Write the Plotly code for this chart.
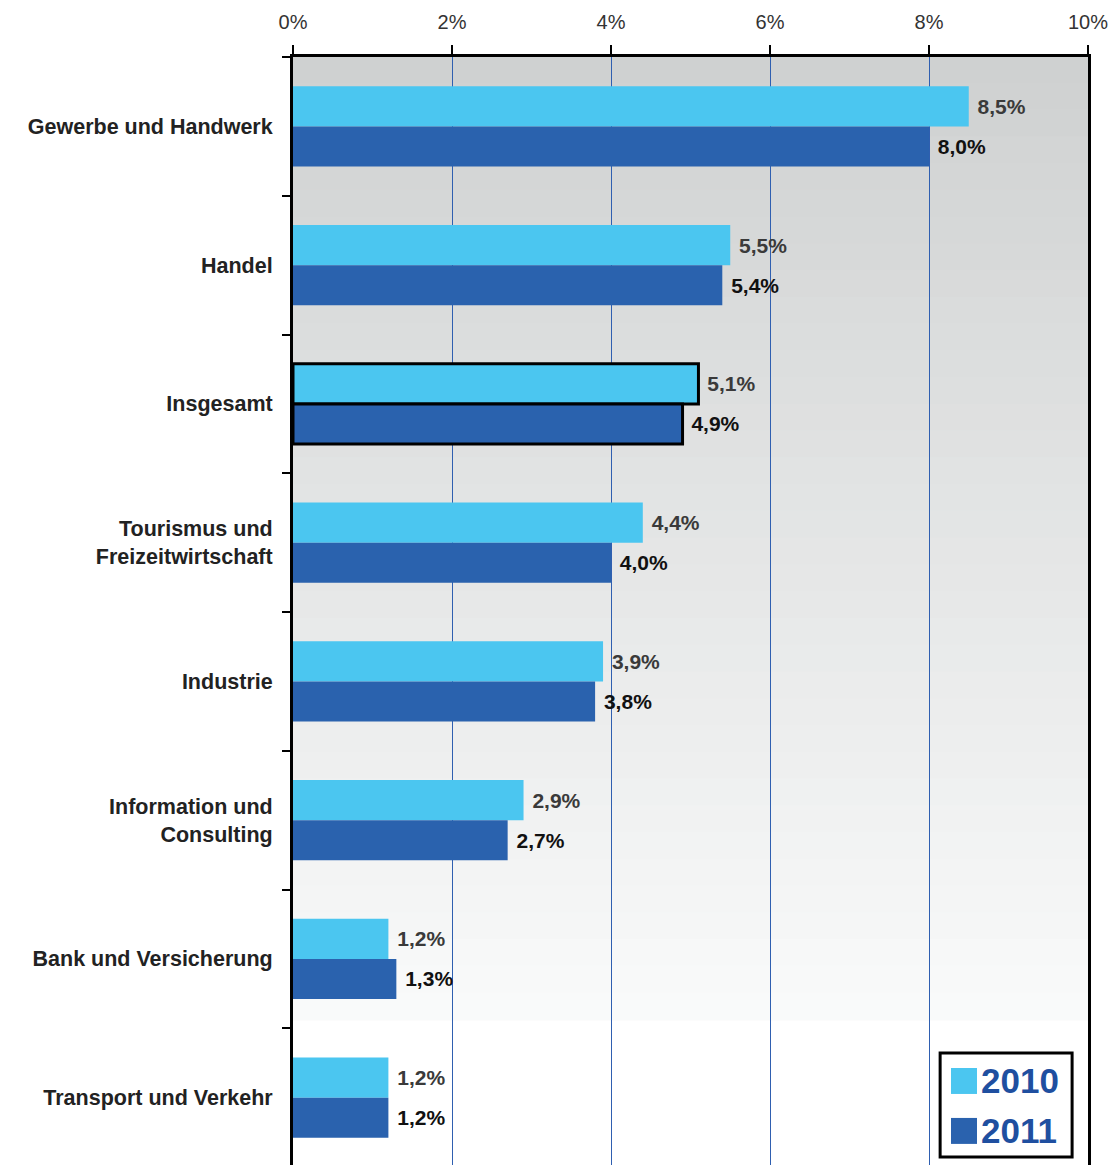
import plotly.graph_objects as go

categories = ["Gewerbe und Handwerk", "Handel", "Insgesamt", "Tourismus und<br>Freizeitwirtschaft",
              "Industrie", "Information und<br>Consulting", "Bank und Versicherung", "Transport und Verkehr"]
values_2010 = [8.5, 5.5, 5.1, 4.4, 3.9, 2.9, 1.2, 1.2]
values_2011 = [8.0, 5.4, 4.9, 4.0, 3.8, 2.7, 1.3, 1.2]
series_names = ["2010", "2011"]
highlight = "Insgesamt"
x_ticks = [0, 2, 4, 6, 8, 10]
x_tick_labels = ["0%", "2%", "4%", "6%", "8%", "10%"]

C2010 = "#4bc6f0"
C2011 = "#2a62ae"
FONT = "Liberation Sans"


def fmt(v):
    return "\u00a0" + f"{v:.1f}".replace(".", ",") + "%"


line_w = [3 if c == highlight else 0 for c in categories]

fig = go.Figure()
for name, vals, col, tcol in [(series_names[0], values_2010, C2010, "#3a3a3a"),
                              (series_names[1], values_2011, C2011, "#111111")]:
    fig.add_trace(go.Bar(
        y=categories, x=vals, orientation="h", name=name,
        marker=dict(color=col, line=dict(color="black", width=line_w)),
        text=[fmt(v) for v in vals], textposition="outside", cliponaxis=False,
        textfont=dict(family=FONT, size=21, color=tcol, weight="bold"),
        showlegend=False,
    ))

# background gradient (stepped), top grey to white
shapes = []
n = 36
top_c = (207, 209, 209)
bot_c = (249, 250, 250)
g_end = 0.132
for i in range(n):
    y1 = 1 - (1 - g_end) * i / n
    y0 = 1 - (1 - g_end) * (i + 1) / n
    t = i / (n - 1)
    c = tuple(round(top_c[k] + (bot_c[k] - top_c[k]) * t) for k in range(3))
    shapes.append(dict(type="rect", xref="paper", yref="paper", x0=0, x1=1, y0=y0, y1=y1 + 0.001,
                       fillcolor=f"rgb{c}", line=dict(width=0), layer="below"))

# custom legend
lx0, lx1, ly0, ly1 = 0.814, 0.980, 0.009, 0.1027
shapes.append(dict(type="rect", xref="paper", yref="paper", x0=lx0, x1=lx1, y0=ly0, y1=ly1,
                   fillcolor="white", line=dict(color="black", width=3), layer="above"))
annotations = []
for j, (name, col) in enumerate(zip(series_names, [C2010, C2011])):
    yc = 0.0775 - j * 0.045
    shapes.append(dict(type="rect", xref="paper", yref="paper", x0=0.8277, x1=0.8604,
                       y0=yc - 0.0117, y1=yc + 0.0117, fillcolor=col, line=dict(width=0), layer="above"))
    annotations.append(dict(xref="paper", yref="paper", x=0.863, y=yc, xanchor="left", yanchor="middle",
                            text=f"<b>{name}</b>", showarrow=False,
                            font=dict(family=FONT, size=35, color="#1f4fa0")))

fig.update_layout(
    width=1117, height=1165,
    margin=dict(l=285, r=37, t=49, b=6),
    paper_bgcolor="white", plot_bgcolor="white",
    barmode="group", bargap=0.42, bargroupgap=0,
    shapes=shapes, annotations=annotations,
    font=dict(family=FONT),
    xaxis=dict(side="top", range=[0, 10], tickmode="array", tickvals=x_ticks, ticktext=x_tick_labels,
               ticks="outside", ticklen=9, tickwidth=2, tickcolor="black",
               showline=True, linewidth=3, linecolor="black", automargin=False,
               showgrid=True, gridcolor="#2f5fb0", gridwidth=1, zeroline=False,
               tickfont=dict(family=FONT, size=20, color="#333333"), ticklabelstandoff=8),
    yaxis=dict(type="category", autorange="reversed", tickson="boundaries",
               ticks="outside", ticklen=8, tickwidth=2, tickcolor="black",
               showline=True, linewidth=3, linecolor="black", mirror=True, showgrid=False,
               automargin=False,
               tickfont=dict(family=FONT, size=21.5, color="#222222", weight="bold"),
               ticklabelstandoff=13),
)

fig.write_html("out.html")
